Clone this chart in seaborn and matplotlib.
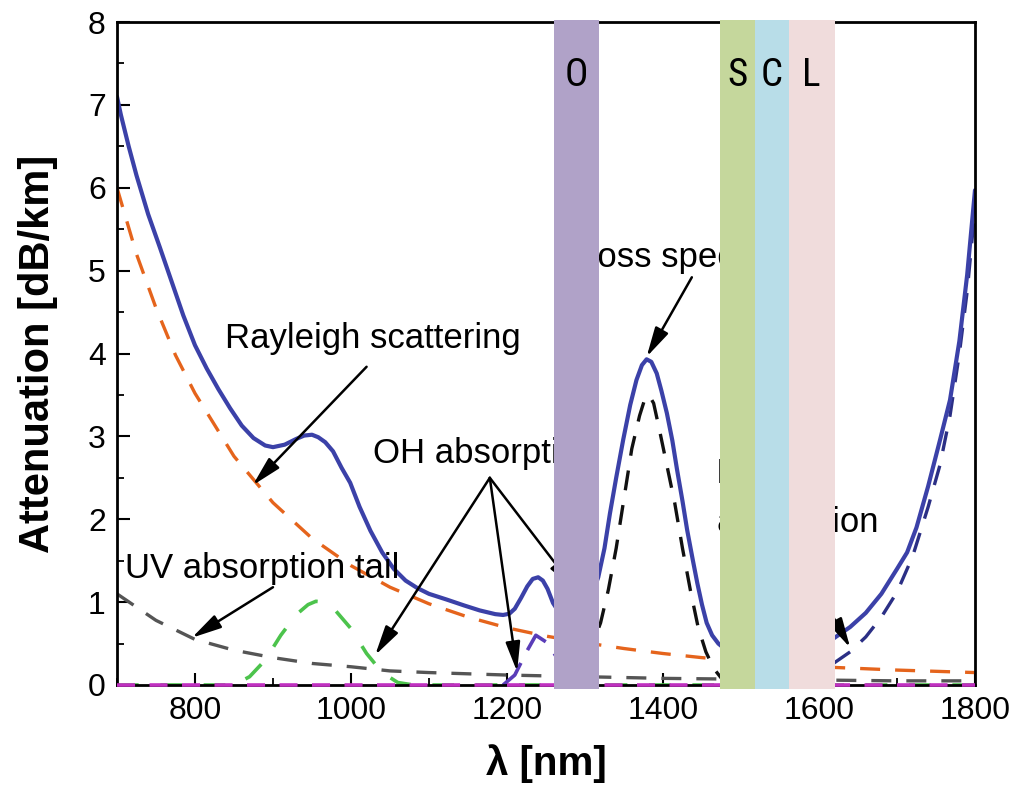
import numpy as np
import pandas as pd
import matplotlib
matplotlib.use("Agg")
import matplotlib.pyplot as plt
from matplotlib import font_manager
from matplotlib.ticker import MultipleLocator
import seaborn as sns

# ---------------- data ----------------
total_x = [700, 705, 715, 725, 740, 755, 770, 785, 800, 815, 830, 845, 860, 875, 890, 900,
           915, 930, 940, 950, 958, 967, 977, 988, 999, 1011, 1025, 1040, 1055, 1070, 1085,
           1100, 1123, 1145, 1165, 1185, 1195, 1203, 1210, 1218, 1226, 1233, 1240, 1246,
           1252, 1259, 1270, 1285, 1300, 1310, 1317, 1325, 1332, 1340, 1349, 1358, 1366,
           1373, 1379, 1385, 1392, 1398, 1405, 1412, 1418, 1425, 1431, 1438, 1444, 1450,
           1456, 1463, 1471, 1480, 1500, 1550, 1580, 1600, 1620, 1640, 1660, 1680, 1700,
           1713, 1725, 1740, 1755, 1768, 1780, 1790, 1800]
total_y = [7.10, 6.88, 6.50, 6.15, 5.68, 5.28, 4.87, 4.46, 4.10, 3.82, 3.57, 3.34, 3.13,
           2.98, 2.89, 2.87, 2.90, 2.97, 3.01, 3.02, 2.99, 2.93, 2.82, 2.62, 2.44, 2.15,
           1.86, 1.60, 1.40, 1.26, 1.17, 1.10, 1.03, 0.96, 0.90, 0.855, 0.845, 0.86, 0.92,
           1.05, 1.19, 1.28, 1.30, 1.26, 1.16, 0.99, 0.83, 0.80, 0.95, 1.12, 1.30, 1.65,
           2.07, 2.50, 2.96, 3.38, 3.68, 3.86, 3.93, 3.90, 3.76, 3.55, 3.28, 2.95, 2.60,
           2.22, 1.87, 1.52, 1.23, 0.97, 0.75, 0.60, 0.50, 0.43, 0.38, 0.36, 0.40, 0.47,
           0.57, 0.70, 0.87, 1.10, 1.40, 1.60, 1.90, 2.40, 2.95, 3.44, 4.15, 4.95, 5.97]

rayleigh_x = [700, 725, 750, 775, 800, 850, 900, 950, 1000, 1050, 1100, 1150, 1200, 1250,
              1300, 1350, 1400, 1450, 1500, 1550, 1600, 1650, 1700, 1750, 1800]
rayleigh_y = [6.00, 5.20, 4.55, 3.98, 3.52, 2.76, 2.20, 1.77, 1.44, 1.18, 0.98, 0.82, 0.69,
              0.59, 0.51, 0.44, 0.38, 0.33, 0.29, 0.25, 0.22, 0.20, 0.18, 0.165, 0.15]

uv_x = [700, 750, 800, 850, 900, 950, 1000, 1050, 1100, 1200, 1300, 1400, 1500, 1600,
        1700, 1800]
uv_y = [1.10, 0.78, 0.55, 0.42, 0.33, 0.26, 0.22, 0.17, 0.15, 0.12, 0.10, 0.08, 0.07,
        0.06, 0.05, 0.05]

oh950_x = [700, 800, 850, 870, 890, 910, 930, 945, 955, 965, 980, 1000, 1020, 1040, 1060,
           1080, 1200, 1400, 1600, 1800]
oh950_y = [0.0, 0.0, 0.0, 0.10, 0.30, 0.60, 0.85, 0.97, 1.01, 1.00, 0.90, 0.68, 0.38,
           0.15, 0.03, 0.0, 0.0, 0.0, 0.0, 0.0]

oh1240_x = [1195, 1210, 1225, 1237, 1250, 1262, 1275, 1290]
oh1240_y = [0.0, 0.12, 0.40, 0.60, 0.52, 0.36, 0.12, 0.0]

oh1383_x = [1270, 1290, 1300, 1310, 1320, 1330, 1340, 1350, 1360, 1370, 1376, 1382, 1388,
            1395, 1405, 1415, 1425, 1435, 1445, 1455, 1465, 1475, 1490]
oh1383_y = [0.0, 0.15, 0.30, 0.50, 0.75, 1.15, 1.65, 2.25, 2.85, 3.25, 3.43, 3.50, 3.40,
            3.10, 2.65, 2.20, 1.65, 1.15, 0.70, 0.40, 0.20, 0.08, 0.0]

ir_x = [1580, 1600, 1620, 1640, 1660, 1680, 1700, 1720, 1740, 1755, 1768, 1780, 1790, 1800]
ir_y = [0.05, 0.15, 0.27, 0.40, 0.58, 0.82, 1.12, 1.55, 2.15, 2.65, 3.25, 4.00, 4.75, 5.75]

base_x = [700, 1800]
base_y = [0.0, 0.0]

band_names = ["O", "S", "C", "L"]
band_start = [1260, 1473, 1518, 1561]
band_end = [1318, 1518, 1561, 1620]
band_colors = ["#b0a2c8", "#c5d79c", "#b8dde8", "#f0dcdc"]

x_ticks = [800, 1000, 1200, 1400, 1600, 1800]
y_ticks = [0, 1, 2, 3, 4, 5, 6, 7, 8]

# ---------------- style ----------------
sns.set_theme(style="ticks", rc={"text.color": "black", "axes.labelcolor": "black",
                                 "xtick.color": "black", "ytick.color": "black",
                                 "axes.edgecolor": "black"})
names = {f.name for f in font_manager.fontManager.ttflist}
main_font = "Liberation Sans" if "Liberation Sans" in names else "DejaVu Sans"
band_font = "DejaVu Sans"
for cand in ["Liberation Sans Narrow", "Roboto Condensed", "DejaVu Sans Condensed"]:
    if cand in names:
        band_font = cand
        break
plt.rcParams["font.family"] = [main_font, "DejaVu Sans"]

fig = plt.figure(figsize=(10.19, 7.93), dpi=100)
ax = fig.add_axes([0.1148, 0.1362, 0.842, 0.836])

dash = (0, (6, 4.5))
sns.lineplot(x=base_x, y=base_y, ax=ax, color="#c030c0", lw=2.6, linestyle=(0, (5, 4)),
             clip_on=False, zorder=2.6)
sns.lineplot(x=uv_x, y=uv_y, ax=ax, color="#555555", lw=2.4, linestyle=dash)
sns.lineplot(x=oh950_x, y=oh950_y, ax=ax, color="#4cc34c", lw=2.6, linestyle=(0, (6, 6)))
sns.lineplot(x=oh1240_x, y=oh1240_y, ax=ax, color="#5a3db8", lw=2.6, linestyle=(0, (8, 4)))
sns.lineplot(x=oh1383_x, y=oh1383_y, ax=ax, color="#111111", lw=2.4, linestyle=dash)
sns.lineplot(x=ir_x, y=ir_y, ax=ax, color="#2b2f85", lw=2.4, linestyle=dash)
sns.lineplot(x=rayleigh_x, y=rayleigh_y, ax=ax, color="#e5641c", lw=2.4, linestyle=dash)
sns.lineplot(x=total_x, y=total_y, ax=ax, color="#3b41a8", lw=3.0)

ax.set_xlim(700, 1800)
ax.set_ylim(0, 8)
ax.set_xticks(x_ticks)
ax.set_yticks(y_ticks)
ax.xaxis.set_minor_locator(MultipleLocator(100))
ax.yaxis.set_minor_locator(MultipleLocator(0.5))
ax.tick_params(which="major", direction="in", length=9, width=1.5, labelsize=23,
               colors="black", pad=8)
ax.tick_params(which="minor", direction="in", length=5, width=1.3)
for s in ax.spines.values():
    s.set_linewidth(2.0)
    s.set_color("black")

ax.set_xlabel("λ [nm]", fontsize=29, fontweight="bold")
ax.set_ylabel("Attenuation [dB/km]", fontsize=30, fontweight="bold")
ax.xaxis.set_label_coords(0.5, -0.09)
ax.yaxis.set_label_coords(-0.069, 0.5)

# annotations
tfs = 25
ax.text(838, 4.07, "Rayleigh scattering", fontsize=tfs, ha="left", va="baseline", zorder=3)
ax.text(1028, 2.68, "OH absorption", fontsize=tfs, ha="left", va="baseline", zorder=3)
ax.text(710, 1.29, "UV absorption tail", fontsize=tfs, ha="left", va="baseline", zorder=3)
ax.text(1291, 5.04, "Loss spectrum", fontsize=tfs, ha="left", va="baseline", zorder=3)
ax.text(1468, 2.44, "Infrared", fontsize=tfs, ha="left", va="baseline", zorder=3)
ax.text(1468, 1.85, "absorption", fontsize=tfs, ha="left", va="baseline", zorder=3)

aprops = dict(arrowstyle="-|>,head_length=0.9,head_width=0.22", color="black", lw=1.8,
              shrinkA=0, shrinkB=0, mutation_scale=20)
arrows = [((1020, 3.84), (874, 2.41)),
          ((900, 1.18), (796, 0.57)),
          ((1178, 2.50), (1031, 0.36)),
          ((1178, 2.50), (1213, 0.16)),
          ((1178, 2.50), (1287, 1.16)),
          ((1437, 4.92), (1379, 3.96)),
          ((1590, 1.30), (1640, 0.45))]
for tail, tip in arrows:
    ax.annotate("", xy=tip, xytext=tail, arrowprops=aprops, zorder=3)

# telecom bands (drawn over everything, slightly past the frame)
for name, x0, x1, c in zip(band_names, band_start, band_end, band_colors):
    ax.fill_between([x0, x1], [-0.045, -0.045], [8.02, 8.02], color=c, lw=0,
                    zorder=5, clip_on=False)
    ax.text((x0 + x1) / 2, 7.36, name, fontsize=28, family=[band_font, "DejaVu Sans"],
            ha="center", va="center", zorder=6)

fig.savefig("out.png", dpi=100)
